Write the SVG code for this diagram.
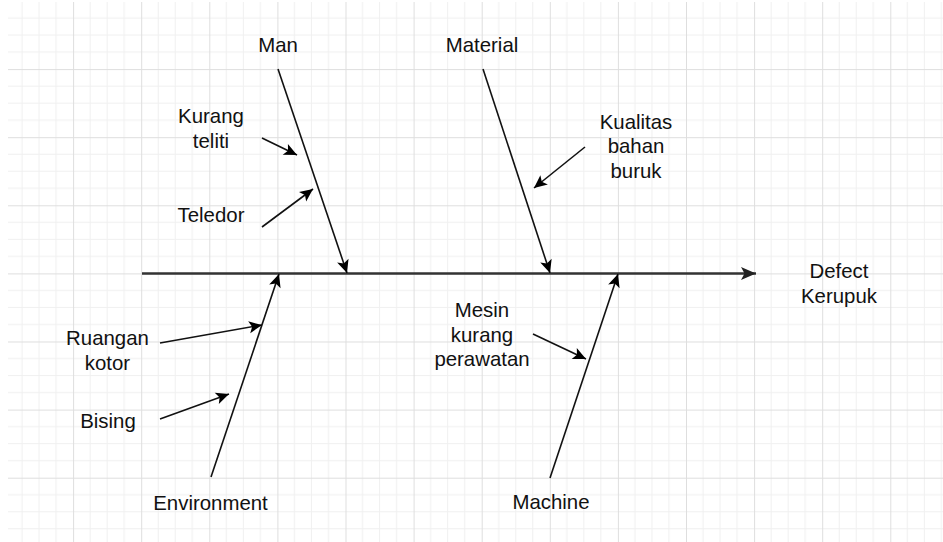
<svg xmlns="http://www.w3.org/2000/svg" width="943" height="542" viewBox="0 0 943 542">
  <defs>
    <pattern id="grid" patternUnits="userSpaceOnUse" x="5" y="1" width="68.1" height="68.1">
      <path d="M17.025,0V68.1M34.05,0V68.1M51.075,0V68.1M0,17.025H68.1M0,34.05H68.1M0,51.075H68.1" stroke="#f0f0f0" stroke-width="1" fill="none"/>
      <path d="M0.5,0V68.1M0,0.5H68.1" stroke="#dedede" stroke-width="1" fill="none"/>
    </pattern>
    <marker id="head" markerUnits="userSpaceOnUse" markerWidth="16" markerHeight="14" refX="14" refY="7" orient="auto">
      <path d="M14,7 L1,1 L4,7 L1,13 Z" fill="#000"/>
    </marker>
    <marker id="headSpine" markerUnits="userSpaceOnUse" markerWidth="18" markerHeight="16" refX="16" refY="8" orient="auto">
      <path d="M16,8 L1,1.5 L4.5,8 L1,14.5 Z" fill="#222"/>
    </marker>
    <style>
      .lbl { font-family: "Liberation Sans", Arial, sans-serif; font-size: 20.4px; fill: #111; text-anchor: middle; }
      .bone { stroke: #111; stroke-width: 1.6; fill: none; marker-end: url(#head); }
      .spine { stroke: #333; stroke-width: 2.6; fill: none; marker-end: url(#headSpine); }
    </style>
  </defs>

  <rect width="943" height="542" fill="#fff"/>
  <rect x="8" y="2" width="935" height="540" fill="url(#grid)"/>

  <!-- fishbone lines -->
  <g id="connectors">
    <path class="spine" d="M142,273.5 H756"/>
    <path class="bone" d="M278,69 L347,273"/>
    <path class="bone" d="M483,69 L550,273"/>
    <path class="bone" d="M211,477 L279,274"/>
    <path class="bone" d="M550,478 L618,274"/>
    <path class="bone" d="M262,138 L297,155"/>
    <path class="bone" d="M262,227 L313,189"/>
    <path class="bone" d="M585,147 L534,188"/>
    <path class="bone" d="M160,343 L262,325"/>
    <path class="bone" d="M160,419 L229,394"/>
    <path class="bone" d="M533,334 L586,359"/>
  </g>

  <!-- categories -->
  <g id="man"><text class="lbl" x="278" y="52">Man</text></g>
  <g id="material"><text class="lbl" x="482" y="51.5">Material</text></g>
  <g id="environment"><text class="lbl" x="210.5" y="509.5">Environment</text></g>
  <g id="machine"><text class="lbl" x="551" y="509">Machine</text></g>

  <!-- effect -->
  <g id="effect">
    <text class="lbl" x="839" y="278">Defect</text>
    <text class="lbl" x="839" y="302.5">Kerupuk</text>
  </g>

  <!-- causes -->
  <g id="kurang-teliti">
    <text class="lbl" x="211" y="123">Kurang</text>
    <text class="lbl" x="211" y="147.5">teliti</text>
  </g>
  <g id="teledor"><text class="lbl" x="211" y="222">Teledor</text></g>
  <g id="kualitas-bahan-buruk">
    <text class="lbl" x="636" y="128.5">Kualitas</text>
    <text class="lbl" x="636" y="153">bahan</text>
    <text class="lbl" x="636" y="177.5">buruk</text>
  </g>
  <g id="ruangan-kotor">
    <text class="lbl" x="107.5" y="345">Ruangan</text>
    <text class="lbl" x="107.5" y="369.5">kotor</text>
  </g>
  <g id="bising"><text class="lbl" x="108" y="427.5">Bising</text></g>
  <g id="mesin-kurang-perawatan">
    <text class="lbl" x="482" y="317">Mesin</text>
    <text class="lbl" x="482" y="341.5">kurang</text>
    <text class="lbl" x="482" y="366">perawatan</text>
  </g>
</svg>
